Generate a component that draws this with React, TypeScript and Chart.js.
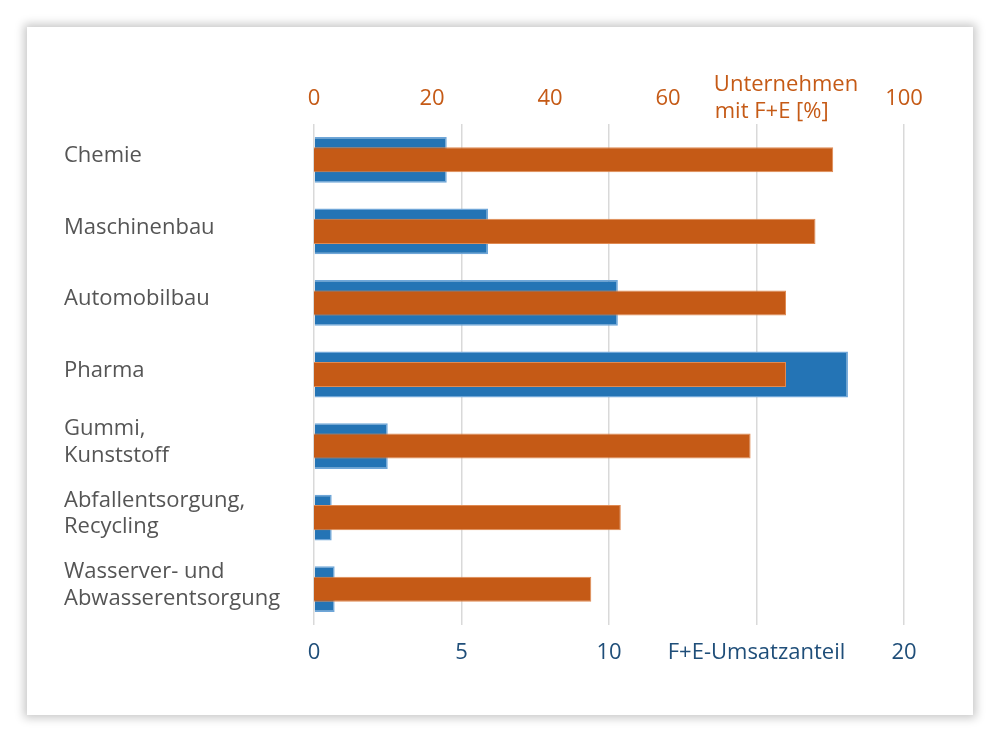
import React, { useEffect, useRef } from "react";
import { Chart, registerables } from "chart.js";

Chart.register(...registerables);

const categories: (string | string[])[] = [
  "Chemie",
  "Maschinenbau",
  "Automobilbau",
  "Pharma",
  ["Gummi,", "Kunststoff"],
  ["Abfallentsorgung,", "Recycling"],
  ["Wasserver- und", "Abwasserentsorgung"],
];

// F+E-Umsatzanteil (bottom axis, 0-20)
const umsatzanteil = [4.5, 5.9, 10.3, 18.1, 2.5, 0.6, 0.7];
// Unternehmen mit F+E [%] (top axis, 0-100)
const unternehmenMitFE = [88, 85, 80, 80, 74, 52, 47];

const bottomTicks = [0, 5, 10, 15, 20];
const bottomTickLabels: Record<number, string> = {
  0: "0",
  5: "5",
  10: "10",
  15: "F+E-Umsatzanteil",
  20: "20",
};
const topTicks = [0, 20, 40, 60, 80, 100];
const topTickLabels: Record<number, string | string[]> = {
  0: "0",
  20: "20",
  40: "40",
  60: "60",
  80: ["Unternehmen", "mit F+E [%]     "],
  100: "100",
};

const FONT = "'Open Sans', 'Noto Sans', sans-serif";
const ORANGE = "#c55a16";
const BLUE = "#2474b5";
const DARKBLUE = "#1f4e79";
const GRAY = "#555555";

export default function App() {
  const canvasRef = useRef<HTMLCanvasElement | null>(null);

  useEffect(() => {
    if (!canvasRef.current) return;
    const chart = new Chart(canvasRef.current, {
      type: "bar",
      data: {
        labels: categories,
        datasets: [
          {
            label: "Unternehmen mit F+E [%]",
            data: unternehmenMitFE,
            xAxisID: "xTop",
            backgroundColor: ORANGE,
            borderColor: "#e08a52",
            borderWidth: 1,
            grouped: false,
            categoryPercentage: 1,
            barPercentage: 0.35,
            order: 1,
          },
          {
            label: "F+E-Umsatzanteil",
            data: umsatzanteil,
            xAxisID: "x",
            backgroundColor: BLUE,
            borderColor: "#6fa6d8",
            borderWidth: 1.5,
            grouped: false,
            categoryPercentage: 1,
            barPercentage: 0.64,
            order: 2,
          },
        ],
      },
      options: {
        indexAxis: "y",
        animation: false,
        responsive: false,
        maintainAspectRatio: false,
        layout: { padding: { left: 37, right: 69, top: 20, bottom: 20 } },
        plugins: {
          legend: { display: false },
          tooltip: { enabled: false },
        },
        scales: {
          y: {
            type: "category",
            position: "left",
            grid: { display: false, drawTicks: false },
            border: { display: false },
            ticks: {
              crossAlign: "far",
              color: GRAY,
              padding: 0,
              labelOffset: -4,
              font: { family: FONT, size: 22, lineHeight: 1.2 },
            },
            afterFit: (scale: any) => {
              scale.width = 250;
            },
          },
          x: {
            type: "linear",
            position: "bottom",
            min: 0,
            max: 20,
            grid: { color: "#d9d9d9", lineWidth: 1.5, drawTicks: false },
            border: { display: false },
            afterBuildTicks: (scale: any) => {
              scale.ticks = bottomTicks.map((v) => ({ value: v }));
            },
            ticks: {
              color: DARKBLUE,
              padding: 15,
              autoSkip: false,
              maxRotation: 0,
              font: { family: FONT, size: 22 },
              callback: (v: any) => bottomTickLabels[Number(v)] ?? "",
            },
            afterFit: (scale: any) => {
              scale.height = 70;
            },
          },
          xTop: {
            type: "linear",
            position: "top",
            min: 0,
            max: 100,
            grid: { display: false, drawTicks: false },
            border: { display: false },
            afterBuildTicks: (scale: any) => {
              scale.ticks = topTicks.map((v) => ({ value: v }));
            },
            ticks: {
              color: ORANGE,
              padding: 12,
              crossAlign: "center",
              autoSkip: false,
              maxRotation: 0,
              font: { family: FONT, size: 22, lineHeight: 1.22 },
              callback: (v: any) => topTickLabels[Number(v)] ?? "",
            },
            afterFit: (scale: any) => {
              scale.height = 77;
            },
          },
        },
      },
    });
    return () => chart.destroy();
  }, []);

  return (
    <div
      style={{
        position: "fixed",
        left: 0,
        top: 0,
        width: 1000,
        height: 742,
        background: "#ffffff",
      }}
    >
      <div
        style={{
          position: "absolute",
          left: 27,
          top: 27,
          width: 946,
          height: 688,
          background: "#ffffff",
          boxShadow: "0 0 9px 3px rgba(0,0,0,0.22)",
        }}
      >
        <canvas ref={canvasRef} width={946} height={688} style={{ display: "block" }} />
      </div>
    </div>
  );
}
